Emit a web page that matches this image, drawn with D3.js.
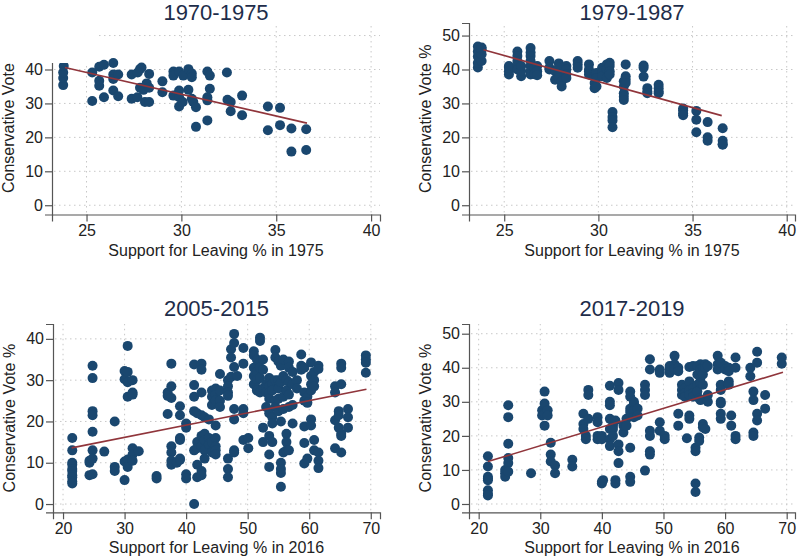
<!DOCTYPE html>
<html>
<head>
<meta charset="utf-8">
<script src="https://cdn.jsdelivr.net/npm/d3@7"></script>
<style>
  body { margin: 0; background: #fff; }
  svg { display: block; font-family: "Liberation Sans", Arial, sans-serif; }
</style>
</head>
<body>
<div class="chart"></div>
<script>
// tick labels
const ticks1975 = [25, 30, 35, 40];
const ticks2016 = [20, 30, 40, 50, 60, 70];
const ticks0to50 = [0, 10, 20, 30, 40, 50];
const ticks0to40 = [0, 10, 20, 30, 40];

// 1970-1975: [leave % 1975, conservative vote %]
const pts7075 = [
  [23.77,35.4],[23.77,37.5],[23.77,39.1],[23.8,41],
  [25.3,30.7],[25.3,39.1],[25.67,36.7],[25.67,35.2],[25.67,40.8],[25.92,41.4],[25.92,31.8],
  [26.41,41.9],[26.41,38.5],[26.41,37.2],[26.41,33.8],[26.67,38.5],[26.67,32.1],
  [27.38,38.5],[27.38,31.4],[27.68,31.8],[27.82,40.1],[27.9,40.6],[27.7,39.1],[27.82,34.6],
  [28.0,34.0],[28.17,35.9],[28.08,30.4],[28.3,30.4],[28.3,38.7],[28.3,34.6],
  [29.0,36.5],[29.0,33.3],[29.58,39.4],[29.58,38.2],[29.58,32.3],
  [29.88,39.4],[29.88,33.8],[29.88,31.8],[29.88,29.1],[30.07,30.4],[30.1,38.2],
  [30.37,40.1],[30.37,34.0],[30.55,38.8],[30.55,37.7],[30.55,31.4],[30.63,30.4],
  [30.77,28.9],[30.77,23.1],[31.37,39.4],[31.5,38.2],[31.37,31.8],[31.37,30.9],[31.37,25.0],[31.5,34.3],
  [32.4,39.1],[32.43,31.1],[32.6,30.4],[32.6,27.7],[33.2,32.3],[33.2,26.5],
  [34.56,29.1],[34.56,22.1],[35.2,28.7],[35.2,23.6],[35.8,22.6],[35.8,15.8],[36.58,22.4],[36.58,16.3]
];

// 1979-1987: [leave % 1975, [conservative vote % ...]]
const cols7987 = [
  [23.6,[40.6,41.9,43.8,45.3,46.8]],[23.8,[42.5,44.5,46,46.5]],
  [25.25,[38.5,39.5,40.5,41]],[25.7,[45.3,44,42.5,41,40]],[25.9,[38,39.5,41]],
  [26.4,[46.3,45,44,42.5,41,39.5,38.5]],[26.6,[40.5,39,38.6]],[26.75,[41,39.5,38.3]],
  [27.4,[42.5,40.5,40]],[27.7,[39.5,37]],[27.9,[41.8,40.5,38.5,37.5]],[28.05,[36.5,35]],
  [28.3,[41,40,38.5,37.5]],[28.9,[42.5,41.5,40.5]],[29.5,[41.5,40,39.5,38.5]],
  [29.8,[38,36,34.5]],[29.9,[39,37.5,35]],[30.2,[40.5,39.5,38]],[30.45,[41.5,40,37.5]],
  [30.6,[42,41,39.5,38.5]],[30.75,[27.5,26,25,23]],[31.35,[36.5,35,33,32,31]],
  [31.45,[41.5,38,37,36]],[32.4,[41.2,40.5,37.9]],[32.6,[34.5,33.5,33]],
  [33.2,[35.5,34.5,33.5,33]],[34.5,[28.5,28,27,26.5]],[35.2,[27.8,25.2,21.5]],
  [35.8,[24.5,20,19]],[36.6,[22.7,19,18,17.8]]
];

// 2005-2015: [leave % 2016, [conservative vote % ...]]
const cols0515 = [
  [21.5,[16,13,10,9.5,8.5,8,7,6.5,5.5,5]],[24.3,[10,10.5,7]],
  [24.8,[33.5,30.5,22.5,21.5,17.5,13,11,7.2]],[26.7,[12.7]],[28.4,[20,9,8]],
  [30,[32.2,30.2,10.3,5.8]],[30.5,[38.3,32,29.5,26,10.8,9]],[31.3,[30,27,26.5,13.5,12,10.5]],
  [32.3,[12.8]],[35.2,[6.8,6.2]],[37,[27,26.2,21.8]],[37.6,[34,28.5,25.7,14,12.5,10.5,9.5]],
  [38.5,[10]],[39,[23.7,21.5,16,15.5,11,10.7]],[40,[19.5,18.5,7.2,6.2]],
  [41.3,[33.8,28.8,26,22.5,13,0]],[41.8,[22,15,13.5,9.5,6.5]],
  [42.5,[34,32.5,27,21.5,16.5,14,8,7]],[43,[21,17,15.5,13,11]],[43.7,[20.5,16,14.5]],
  [44.2,[27.5,26,24,15,12.5]],[44.8,[28,26.5,25,19,16,14,13,12]],[45.5,[31.5,27.5,25,23.5]],
  [46.8,[30,28.5,27,26.2,11,8.5,6.5]],[47.3,[37.5,35.5,30.8]],
  [47.8,[41.2,39,33.2,23,20.5,13,12.5]],[48.3,[31]],[49.3,[37.8,34,23,22,15.5]],
  [50.1,[16,13.5]],[51,[37,36,33,31,29]],[51.5,[35,32,30,28,27.5]],[52,[40.3,39.5,33,30.5,27]],
  [52.5,[35,32.5,28,18.5,15]],[53,[29,28,27,23.5]],[53.5,[30.5,28.5,27,25.5,22,16.5,12,9]],
  [54,[29,27.5,21,19.5,15]],[54.5,[37.3,35.5,30,25,23.5]],[55,[34.5,30,28,25.5,22.5]],
  [55.4,[33.5,29.5,20,10,8.5,7.5,4.2]],[55.8,[35,31,26,23,12.5]],[56.3,[30,27.5,17,15,13]],
  [56.7,[34.5,33,29.5,26.5,23.5,13]],[57.3,[32,29,24,19.5]],[58,[30,28]],
  [58.7,[36.2,33.5,32.5]],[59.2,[33,27,25,18.8,14.8,9.8]],[59.7,[26,24.5,11]],
  [60.3,[34.3,31,29,27.5,20.5,19]],[60.8,[32,30,28.5,15.5,13]],[61.5,[33.5,32.7,12.5,10.5,8.7]],
  [64.2,[28.5,27,20.3,13.5]],[64.8,[22.5,21.5,18.5]],[65.2,[34,33,29,17,16.5,12.5]],
  [66.3,[23,21,18.5]],[69.2,[36,35,34.2,31.8]]
];

// 2017-2019: [leave % 2016, [conservative vote % ...]]
const cols1719 = [
  [21.5,[14,11,8,7.5,7,4,3,2.5]],[24.3,[10,9,8]],[24.8,[29,25.5,17.7,13.5,12,9.5]],
  [28.5,[9]],[30.3,[27.5,26]],[30.7,[33,29.5,27,26.5,23]],[31.2,[27.5,26]],
  [31.7,[18,14.5,12.5]],[32.4,[11.3,9]],[35.2,[13,11]],[37,[26.5,23.5,22]],[37.4,[20,19]],
  [37.8,[33.5,32,25]],[39.3,[25.5,24,20,19]],[40,[20,19,6.5,6]],[40.2,[7]],
  [41.3,[34.7,30,29,25,22,19,17]],[41.8,[23,22,20]],[42.2,[24.5,7,6]],
  [42.7,[35.5,33.5,17.5,15.5,12]],[43.5,[21,23]],[44,[25,23]],
  [44.6,[33,31.5,28,27,16.5,8,6.5]],[45.2,[30,29.5,27.5,25.5]],[45.8,[28,26]],
  [47,[35,33.5,32,9.8]],[47.8,[42.5,39.5,21.5,20,15.5,14.5]],[49.4,[39.5,38.5,24,21.5]],
  [50.2,[20,19]],[51,[38.5,39.5,40.5]],[51.8,[43.5,41,40,39.5]],[52.4,[40,39,26.5,23]],
  [53,[35,33.5,32]],[53.5,[34,32.5,31.5]],[53.8,[19.3]],[54.2,[40.2,36,33.5,32,26,25]],
  [54.8,[40.5,34,32.5,31.5]],[55.2,[16.5,15.5,6,3.5]],[55.5,[40.5,38,35,33]],
  [55.8,[31,19.5,18.5]],[56,[41,39.5,37,35.5,30.5]],[56.4,[40,38,35,23.5,22.5]],
  [56.8,[41,40,22]],[57.2,[32,30,40.5]],[58.8,[43.5,41,39.5]],
  [59.3,[41.5,35,33.5,30,29.5,26.5,25]],[60,[40.5,39.5]],[60.6,[40,39,36,35]],
  [61,[26,23]],[61.7,[43,40,20,19]],[64.1,[40,37.5]],[64.6,[33,30.5,21,20]],
  [65.2,[44.7,41.5,26.5,24.5]],[66.5,[32,28]],[69.2,[43,41.2]]
];

// fitted lines: [x, y] end points
const fit7075 = [[23.86, 40.6], [36.62, 24.2]];
const fit7987 = [[23.9, 45.8], [36.55, 26.4]];
const fit0515 = [[21.4, 13.6], [69.3, 27.8]];
const fit1719 = [[21.5, 12.45], [69.4, 38.7]];

const flatten = cols => cols.flatMap(c => c[1].map(v => [c[0], v]));

const w = 798;
const h = 558;
const dotColor = "#1a476f";
const fitColor = "#90353b";
const gridColor = "#c8c8c8";

const svg = d3.select(".chart")
    .append("svg")
    .attr("width", w)
    .attr("height", h);

const panels = [
  {title: "1970-1975", pts: pts7075, fit: fit7075, xTicks: ticks1975, yTicks: ticks0to50,
   xDomain: [23.18, 40.47], yDomain: [-2.73, 53.7], x0: 52, x1: 380, y0: 23, y1: 214.5,
   titleY: 19.5, xLabel: "Support for Leaving % in 1975"},
  {title: "1979-1987", pts: flatten(cols7987), fit: fit7987, xTicks: ticks1975, yTicks: ticks0to50,
   xDomain: [23.13, 40.44], yDomain: [-2.73, 53.7], x0: 469, x1: 795, y0: 23, y1: 214.5,
   titleY: 19.5, xLabel: "Support for Leaving % in 1975"},
  {title: "2005-2015", pts: flatten(cols0515), fit: fit0515, xTicks: ticks2016, yTicks: ticks0to40,
   xDomain: [18.37, 71.5], yDomain: [-2.0, 43.6], x0: 53, x1: 380, y0: 324, y1: 512.3,
   titleY: 315.5, xLabel: "Support for Leaving % in 2016"},
  {title: "2017-2019", pts: flatten(cols1719), fit: fit1719, xTicks: ticks2016, yTicks: ticks0to50,
   xDomain: [18.43, 71.35], yDomain: [-2.44, 52.85], x0: 469, x1: 795, y0: 324, y1: 512.3,
   titleY: 315.5, xLabel: "Support for Leaving % in 2016"}
];

panels.forEach(p => {
    const x = d3.scaleLinear().domain(p.xDomain).range([p.x0, p.x1]);
    const y = d3.scaleLinear().domain(p.yDomain).range([p.y1, p.y0]);
    const g = svg.append("g");

    //dotted grid
    g.selectAll("line.hgrid")
        .data(p.yTicks)
        .enter()
        .append("line")
        .attr("class", "hgrid")
        .attr("x1", p.x0 + 2).attr("x2", p.x1)
        .attr("y1", d => y(d)).attr("y2", d => y(d))
        .attr("stroke", gridColor)
        .attr("stroke-dasharray", "1.5,3.5");
    g.selectAll("line.vgrid")
        .data(p.xTicks)
        .enter()
        .append("line")
        .attr("class", "vgrid")
        .attr("x1", d => x(d)).attr("x2", d => x(d))
        .attr("y1", p.y1 - 2).attr("y2", p.y0)
        .attr("stroke", gridColor)
        .attr("stroke-dasharray", "1.5,3.5");

    //points
    g.selectAll("circle")
        .data(p.pts)
        .enter()
        .append("circle")
        .attr("cx", d => x(d[0]))
        .attr("cy", d => y(d[1]))
        .attr("r", 5)
        .attr("fill", dotColor);

    //fitted line
    g.append("path")
        .datum(p.fit)
        .attr("d", d3.line().x(d => x(d[0])).y(d => y(d[1])))
        .attr("fill", "none")
        .attr("stroke", fitColor)
        .attr("stroke-width", 1.6);

    //axes
    const xAxis = g.append("g")
        .attr("transform", `translate(0,${p.y1})`)
        .call(d3.axisBottom(x).tickValues(p.xTicks).tickSizeOuter(0).tickSize(7).tickPadding(3));
    const yAxis = g.append("g")
        .attr("transform", `translate(${p.x0},0)`)
        .call(d3.axisLeft(y).tickValues(p.yTicks).tickSizeOuter(0).tickSize(7).tickPadding(2));
    [xAxis, yAxis].forEach(a => {
        a.select(".domain").attr("stroke", "#555").attr("stroke-width", 1.2);
        a.selectAll(".tick line").attr("stroke", "#555").attr("stroke-width", 1.2);
        a.selectAll(".tick text")
            .attr("font-size", 16)
            .attr("font-family", "Liberation Sans, Arial, sans-serif")
            .attr("fill", "#222");
    });

    //titles
    const cx = (p.x0 + p.x1) / 2;
    g.append("text")
        .text(p.title)
        .attr("x", cx)
        .attr("y", p.titleY)
        .attr("text-anchor", "middle")
        .attr("font-size", 22)
        .attr("fill", "#1e2d4a");
    g.append("text")
        .text(p.xLabel)
        .attr("x", cx)
        .attr("y", p.y1 + 41)
        .attr("text-anchor", "middle")
        .attr("font-size", 16)
        .attr("fill", "#222");
    g.append("text")
        .text("Conservative Vote %")
        .attr("transform", `translate(${p.x0 - 38},${(p.y0 + p.y1) / 2}) rotate(-90)`)
        .attr("text-anchor", "middle")
        .attr("font-size", 16)
        .attr("fill", "#222");
});

// blank patch that sits over the top-left corner in the original picture
svg.append("rect")
    .attr("x", 0).attr("y", 0)
    .attr("width", 96).attr("height", 63)
    .attr("fill", "#fff");
</script>
</body>
</html>
